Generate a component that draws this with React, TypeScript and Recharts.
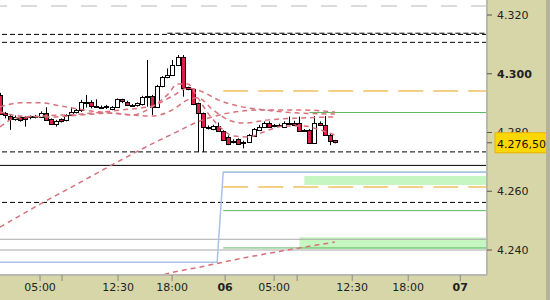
import {
  ComposedChart,
  Bar,
  Line,
  XAxis,
  YAxis,
  CartesianGrid,
  ReferenceLine,
  ReferenceArea,
} from 'recharts';

// 30-minute candles, index = bar number from the left edge
const opens = [
  4292.8, 4286.5, 4285.6, 4284.8, 4285.2, 4285.4, 4285.0, 4285.3, 4285.4, 4286.8,
  4284.5, 4282.9, 4284.5, 4284.3, 4286.0, 4287.1, 4287.7, 4290.0, 4290.5, 4289.0,
  4288.8, 4288.6, 4288.0, 4288.6, 4291.3, 4290.5, 4289.4, 4289.3, 4289.7, 4292.0,
  4292.4, 4288.8, 4295.8, 4298.8, 4299.6, 4303.0, 4305.8, 4295.4, 4294.7, 4289.9,
  4286.5, 4282.0, 4281.1, 4282.2, 4280.6, 4278.6, 4276.9, 4277.7, 4276.5, 4276.9,
  4278.8, 4280.9, 4282.0, 4283.4, 4282.6, 4282.2, 4282.2, 4283.4, 4283.4, 4283.4,
  4280.9, 4280.9, 4276.5, 4283.4, 4282.6, 4279.2, 4277.3,
];
const highs = [
  4293.5, 4287.0, 4286.0, 4285.8, 4285.5, 4285.6, 4285.8, 4286.0, 4287.2, 4288.6,
  4284.8, 4284.3, 4284.8, 4286.2, 4288.6, 4288.0, 4291.1, 4292.8, 4291.0, 4291.3,
  4289.2, 4289.4, 4289.0, 4291.6, 4291.5, 4290.8, 4289.7, 4290.2, 4292.5, 4304.7,
  4292.8, 4296.2, 4299.2, 4301.8, 4304.7, 4306.4, 4306.4, 4295.6, 4295.0, 4290.2,
  4286.8, 4282.4, 4282.6, 4283.4, 4280.8, 4279.0, 4277.7, 4278.0, 4277.2, 4279.5,
  4281.5, 4282.6, 4283.8, 4283.8, 4282.9, 4283.0, 4283.8, 4285.4, 4284.0, 4285.4,
  4281.2, 4281.2, 4285.6, 4283.8, 4285.6, 4279.5, 4277.5,
];
const lows = [
  4286.0, 4284.8, 4280.9, 4284.0, 4283.7, 4282.0, 4284.5, 4284.8, 4285.0, 4284.0,
  4282.6, 4282.0, 4283.4, 4283.8, 4285.6, 4286.5, 4287.0, 4288.5, 4288.2, 4288.4,
  4288.4, 4288.0, 4287.6, 4288.4, 4290.0, 4289.0, 4288.8, 4288.8, 4289.2, 4288.8,
  4286.0, 4288.5, 4295.4, 4298.5, 4299.3, 4302.6, 4292.2, 4294.4, 4289.3, 4273.4,
  4273.4, 4281.0, 4280.8, 4280.2, 4277.2, 4275.7, 4276.3, 4275.8, 4274.6, 4276.5,
  4278.5, 4280.5, 4281.7, 4281.8, 4281.8, 4281.8, 4281.8, 4282.6, 4282.2, 4280.3,
  4280.3, 4276.1, 4276.2, 4282.2, 4278.8, 4275.7, 4276.3,
];
const closes = [
  4286.5, 4285.8, 4284.5, 4285.4, 4284.3, 4284.8, 4285.5, 4285.7, 4286.8, 4284.3,
  4282.9, 4284.0, 4283.7, 4286.0, 4287.1, 4287.7, 4290.5, 4290.5, 4289.0, 4288.8,
  4288.7, 4289.0, 4288.6, 4291.3, 4290.5, 4289.4, 4289.2, 4289.9, 4292.2, 4292.4,
  4288.8, 4295.8, 4298.8, 4299.6, 4303.0, 4305.8, 4295.4, 4294.7, 4289.7, 4286.5,
  4281.8, 4281.5, 4282.2, 4280.6, 4277.7, 4276.1, 4277.2, 4276.1, 4276.7, 4279.2,
  4281.1, 4282.0, 4283.4, 4282.2, 4282.2, 4282.6, 4283.4, 4282.9, 4282.7, 4280.6,
  4280.6, 4276.5, 4283.4, 4282.6, 4279.2, 4277.2, 4276.5,
];

// moving averages, read at a few bars
const maFast = [
  { i: 0, v: 4287.0 }, { i: 4, v: 4285.6 }, { i: 10, v: 4285.3 }, { i: 16, v: 4286.0 },
  { i: 22, v: 4286.6 }, { i: 26, v: 4286.0 }, { i: 30, v: 4288.7 }, { i: 33, v: 4292.8 },
  { i: 35, v: 4296.5 }, { i: 37, v: 4296.5 }, { i: 39, v: 4291.8 }, { i: 41, v: 4286.6 },
  { i: 44, v: 4280.9 }, { i: 46, v: 4278.8 }, { i: 49, v: 4278.5 }, { i: 52, v: 4280.2 },
  { i: 56, v: 4282.2 }, { i: 60, v: 4282.2 }, { i: 63, v: 4280.9 }, { i: 66, v: 4279.2 },
];
const maMid = [
  { i: 0, v: 4281.9 }, { i: 3, v: 4284.9 }, { i: 8, v: 4285.6 }, { i: 16, v: 4286.3 },
  { i: 24, v: 4287.7 }, { i: 30, v: 4289.0 }, { i: 34, v: 4292.4 }, { i: 37, v: 4295.1 },
  { i: 40, v: 4293.8 }, { i: 43, v: 4291.1 }, { i: 47, v: 4289.0 }, { i: 52, v: 4287.7 },
  { i: 59, v: 4286.6 }, { i: 66, v: 4286.3 },
];
const maSlow = [
  { i: 0, v: 4288.7 }, { i: 4, v: 4290.1 }, { i: 8, v: 4290.1 }, { i: 12, v: 4289.0 },
  { i: 18, v: 4287.3 }, { i: 24, v: 4286.3 }, { i: 30, v: 4285.6 }, { i: 34, v: 4287.7 },
  { i: 37, v: 4291.1 }, { i: 39, v: 4291.8 }, { i: 42, v: 4287.7 }, { i: 45, v: 4284.3 },
  { i: 48, v: 4283.2 }, { i: 53, v: 4284.3 }, { i: 59, v: 4284.9 }, { i: 66, v: 4285.3 },
];
const maLong = [
  { i: 0, v: 4247.8 }, { i: 8, v: 4255.7 }, { i: 16, v: 4263.2 }, { i: 22, v: 4268.9 },
  { i: 28, v: 4274.4 }, { i: 34, v: 4279.5 }, { i: 40, v: 4284.3 }, { i: 45, v: 4286.6 },
  { i: 52, v: 4287.7 }, { i: 59, v: 4287.7 }, { i: 66, v: 4287.0 },
];
const maDaily = [
  { i: 29, v: 4229.8 }, { i: 31, v: 4231.0 }, { i: 40, v: 4234.4 },
  { i: 49, v: 4237.6 }, { i: 59, v: 4240.7 }, { i: 66, v: 4242.7 },
];
const prevLine = [
  { i: 0, v: 4235.8 }, { i: 42.8, v: 4235.8 }, { i: 44, v: 4266.5 }, { i: 96, v: 4266.5 },
];

// price levels
const topGrayLevel = 4323.1;
const blackDashedLevels = [4313.4, 4310.7, 4273.4, 4256.2];
const blackSolidLevels = [4268.8];
const grayLevels = [4243.65, 4240.0];
const orangeLevels = [4294.1, 4261.45];
const greenLevels = [4266.5, 4253.4, 4240.7];
const lateGreenLevel = 4286.8;
const lateGreenStart = 61;
const upperDashedStart = 33;
const upperDashedLevel = 4313.8;
const dayStart = 44;
const zoneLow = [4262.1, 4240.3];
const zoneHigh = [4265.2, 4244.3];
const zoneStart = [60, 59];

// axes
const xMax = 96;
const yMin = 4231.49;
const yMax = 4325.11;
const timeTicks = [7.89, 12.23, 23.27, 33.93, 44.38, 54.04, 58.58, 69.43, 80.47, 90.73];
const timeLabels = ['05:00', '', '12:30', '18:00', '06', '05:00', '', '12:30', '18:00', '07'];
const dayLabels = ['06', '07'];
const priceTicks = [4240, 4260, 4280, 4300, 4320];
const lastPrice = 4276.5;

const candles = opens.map((o, i) => ({
  i,
  open: o,
  high: highs[i],
  low: lows[i],
  close: closes[i],
}));

const fmtPrice = (v: number) => {
  const s = Math.round(v).toString();
  return s.slice(0, 1) + '.' + s.slice(1);
};

function Candle(props: any) {
  const { x, y, width, height, payload } = props;
  if (!payload || x == null) return null;
  const { open, close, high, low } = payload;
  const top = Math.min(y, y + height);
  const bottom = Math.max(y, y + height);
  const span = high - low || 1;
  const toY = (v: number) => top + ((high - v) / span) * (bottom - top);
  const cx = Math.round(x + width / 2) + 0.5;
  const yo = toY(open);
  const yc = toY(close);
  const bTop = Math.round(Math.min(yo, yc)) + 0.5;
  const bH = Math.max(Math.round(Math.abs(yo - yc)), 1);
  const up = close >= open;
  return (
    <g>
      <line x1={cx} x2={cx} y1={top} y2={bottom} stroke="#000" strokeWidth={1} />
      <rect
        x={cx - 2}
        y={bTop}
        width={4}
        height={bH}
        fill={up ? '#ffffff' : '#dc1e46'}
        stroke="#000"
        strokeWidth={1}
      />
    </g>
  );
}

function TimeTick(props: any) {
  const { x, y, payload } = props;
  const idx = timeTicks.indexOf(payload.value);
  const label = idx >= 0 ? timeLabels[idx] : '';
  if (!label) return null;
  const bold = dayLabels.includes(label);
  return (
    <text
      x={x}
      y={y}
      dy="0.71em"
      textAnchor="middle"
      fontSize={11}
      fontWeight={bold ? 'bold' : 'normal'}
      fill="#222"
      fontFamily="DejaVu Sans"
    >
      {label}
    </text>
  );
}

function PriceTick(props: any) {
  const { x, y, payload } = props;
  const v = payload.value;
  if (v === lastPrice) {
    return (
      <g>
        <rect x={x + 1} y={y - 10} width={53} height={20} fill="#ffd700" stroke="#e8b400" />
        <text
          x={x + 3}
          y={y + 1}
          dy="0.355em"
          fontSize={11}
          fill="#111"
          fontFamily="DejaVu Sans"
        >
          {'4.276,50'}
        </text>
      </g>
    );
  }
  return (
    <text
      x={x + 3}
      y={y}
      dy="0.355em"
      fontSize={11}
      fontWeight={v === 4300 ? 'bold' : 'normal'}
      fill="#222"
      fontFamily="DejaVu Sans"
    >
      {fmtPrice(v)}
    </text>
  );
}

const maStyle = {
  stroke: '#d7727c',
  strokeWidth: 1.5,
  strokeDasharray: '5 4',
};

export default function App() {
  return (
    <div
      style={{
        position: 'absolute',
        left: 0,
        top: 0,
        width: 550,
        height: 300,
        background: '#d7d6a9',
        overflow: 'hidden',
      }}
    >
      <ComposedChart
        width={550}
        height={300}
        data={candles}
        margin={{ top: 0, right: 0, bottom: 0, left: 0 }}
      >
        <CartesianGrid fill="#ffffff" horizontal={false} vertical={false} />
        <XAxis
          type="number"
          dataKey="i"
          domain={[0, xMax]}
          allowDataOverflow
          ticks={timeTicks}
          interval={0}
          height={25}
          tickSize={6}
          tickLine={{ stroke: '#8a8a80' }}
          axisLine={{ stroke: '#b9b9b2', strokeWidth: 2 }}
          tick={<TimeTick />}
        />
        <YAxis
          type="number"
          orientation="right"
          domain={[yMin, yMax]}
          allowDataOverflow
          ticks={[...priceTicks, lastPrice]}
          interval={0}
          width={63}
          tickSize={5}
          tickLine={{ stroke: '#555' }}
          axisLine={{ stroke: '#b9b9b2', strokeWidth: 2 }}
          tick={<PriceTick />}
        />

        {zoneLow.map((lo, k) => (
          <ReferenceArea
            key={`z${k}`}
            x1={zoneStart[k]}
            x2={xMax}
            y1={lo}
            y2={zoneHigh[k]}
            fill="#c6f6c2"
            fillOpacity={1}
            stroke="none"
          />
        ))}

        <ReferenceLine y={topGrayLevel} stroke="#cfcfcf" strokeWidth={1.5} strokeDasharray="16 14" />
        {blackDashedLevels.map((v) => (
          <ReferenceLine key={`bd${v}`} y={v} stroke="#000" strokeDasharray="5 3" />
        ))}
        <ReferenceLine
          segment={[
            { x: upperDashedStart, y: upperDashedLevel },
            { x: xMax, y: upperDashedLevel },
          ]}
          stroke="#000"
          strokeDasharray="5 3"
        />
        {blackSolidLevels.map((v) => (
          <ReferenceLine key={`bs${v}`} y={v} stroke="#000" />
        ))}
        {grayLevels.map((v) => (
          <ReferenceLine key={`g${v}`} y={v} stroke="#a8a8a8" />
        ))}
        {orangeLevels.map((v) => (
          <ReferenceLine
            key={`o${v}`}
            segment={[{ x: dayStart, y: v }, { x: xMax, y: v }]}
            stroke="#f0c060"
            strokeWidth={1.5}
            strokeDasharray="25 10"
          />
        ))}
        {greenLevels.map((v) => (
          <ReferenceLine
            key={`gr${v}`}
            segment={[{ x: dayStart, y: v }, { x: xMax, y: v }]}
            stroke="#5cb85c"
          />
        ))}
        <ReferenceLine
          segment={[
            { x: lateGreenStart, y: lateGreenLevel },
            { x: xMax, y: lateGreenLevel },
          ]}
          stroke="#5cb85c"
        />

        <Line
          data={prevLine}
          dataKey="v"
          type="linear"
          stroke="#aac2ea"
          strokeWidth={1.5}
          dot={false}
          activeDot={false}
          isAnimationActive={false}
        />
        <Line data={maDaily} dataKey="v" type="monotone" dot={false} activeDot={false} isAnimationActive={false} {...maStyle} />
        <Line data={maLong} dataKey="v" type="monotone" dot={false} activeDot={false} isAnimationActive={false} {...maStyle} />
        <Line data={maSlow} dataKey="v" type="monotone" dot={false} activeDot={false} isAnimationActive={false} {...maStyle} />
        <Line data={maMid} dataKey="v" type="monotone" dot={false} activeDot={false} isAnimationActive={false} {...maStyle} />

        <Bar
          dataKey={(d: any) => [d.low, d.high]}
          barSize={5}
          shape={<Candle />}
          activeBar={false}
          isAnimationActive={false}
        />
        <Line data={maFast} dataKey="v" type="monotone" dot={false} activeDot={false} isAnimationActive={false} {...maStyle} />
      </ComposedChart>
      <div
        style={{
          position: 'absolute',
          right: 0,
          top: 0,
          width: 4,
          height: 300,
          background: '#b3b39a',
        }}
      />
    </div>
  );
}
